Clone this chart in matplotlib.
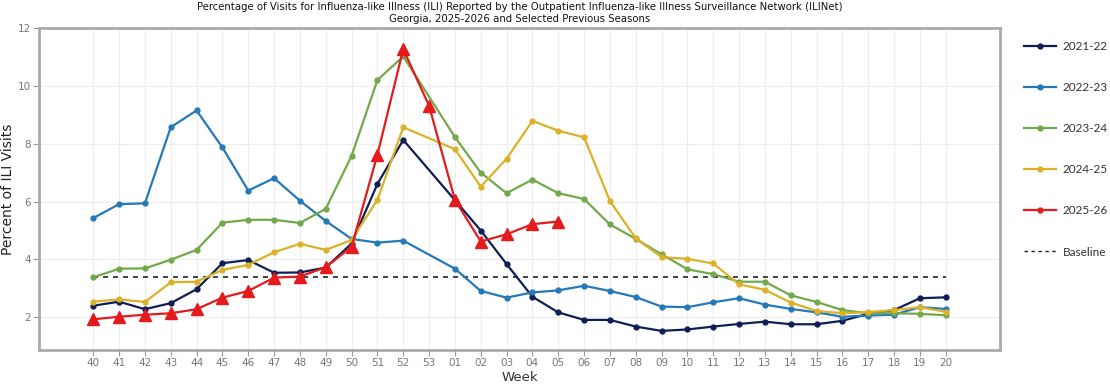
import matplotlib
matplotlib.use("Agg")
import matplotlib.pyplot as plt
from matplotlib.lines import Line2D

weeks = ['40', '41', '42', '43', '44', '45', '46', '47', '48', '49', '50', '51', '52', '53',
         '01', '02', '03', '04', '05', '06', '07', '08', '09', '10', '11', '12', '13', '14',
         '15', '16', '17', '18', '19', '20']

s2021_22 = [2.40, 2.54, 2.28, 2.49, 2.97, 3.87, 3.98, 3.54, 3.55, 3.72, 4.55, 6.61, 8.13, None,
            6.05, 5.00, 3.84, 2.71, 2.17, 1.91, 1.91, 1.68, 1.53, 1.58, 1.68, 1.77, 1.85, 1.76,
            1.76, 1.88, 2.12, 2.25, 2.66, 2.69]
s2022_23 = [5.43, 5.91, 5.94, 8.57, 9.15, 7.87, 6.38, 6.81, 6.03, 5.33, 4.71, 4.58, 4.65, None,
            3.68, 2.91, 2.68, 2.86, 2.93, 3.09, 2.91, 2.70, 2.37, 2.35, 2.52, 2.66, 2.44, 2.29,
            2.17, 2.02, 2.06, 2.09, 2.35, 2.29]
s2023_24 = [3.38, 3.68, 3.69, 3.99, 4.33, 5.27, 5.37, 5.37, 5.26, 5.75, 7.58, 10.20, 11.02, None,
            8.23, 7.00, 6.29, 6.76, 6.29, 6.09, 5.21, 4.71, 4.18, 3.66, 3.49, 3.23, 3.23, 2.76,
            2.53, 2.25, 2.14, 2.14, 2.12, 2.07]
s2024_25 = [2.54, 2.62, 2.53, 3.21, 3.23, 3.64, 3.81, 4.25, 4.54, 4.33, 4.67, 6.06, 8.57, None,
            7.81, 6.52, 7.48, 8.79, 8.45, 8.22, 6.02, 4.73, 4.08, 4.02, 3.86, 3.14, 2.95, 2.51,
            2.22, 2.14, 2.18, 2.25, 2.35, 2.19]
s2025_26 = [1.93, 2.02, 2.09, 2.14, 2.28, 2.68, 2.91, 3.37, 3.41, 3.73, 4.44, 7.62, 11.27, 9.31,
            6.06, 4.62, 4.87, 5.22, 5.31]
baseline = 3.4

series = [
    ('2021-22', s2021_22, '#0f1f55'),
    ('2022-23', s2022_23, '#2479b8'),
    ('2023-24', s2023_24, '#72a94a'),
    ('2024-25', s2024_25, '#dcb12a'),
    ('2025-26', s2025_26, '#e41a1c'),
]

fig = plt.figure(figsize=(11.10, 3.87), dpi=100)
ax = fig.add_axes([39/1110, 1-350/387, (1000-39)/1110, (350-28)/387])

handles = []
for name, vals, col in series:
    xs = [i for i, v in enumerate(vals) if v is not None]
    ys = [v for v in vals if v is not None]
    if name == '2025-26':
        ax.plot(xs, ys, color=col, lw=1.6, marker='^', ms=9, zorder=6)
    else:
        ax.plot(xs, ys, color=col, lw=1.6, marker='o', ms=3.5, zorder=4)
    handles.append(Line2D([], [], color=col, lw=1.6, marker='o', ms=3.5, label=name))

ax.plot([0, len(weeks)-1], [baseline, baseline], color='#222222', lw=1.2,
        dashes=(3, 3), zorder=3)
handles.append(Line2D([], [], color='#222222', lw=1.0, dashes=(2.5, 2.5), label='Baseline'))

ax.set_xlim(-2.1, len(weeks)-1+2.1)
ax.set_ylim(0.87, 12)
ax.set_xticks(range(len(weeks)))
ax.set_xticklabels(weeks)
ax.set_yticks([2, 4, 6, 8, 10, 12])
ax.tick_params(axis='both', colors='#999999', labelcolor='#777777', labelsize=7.5,
               length=4, width=0.8, pad=2)
ax.grid(True, color='#eeeeee', lw=0.8, zorder=0)
ax.set_axisbelow(True)
for sp in ax.spines.values():
    sp.set_color('#aaaaaa')
    sp.set_linewidth(2)

ax.set_xlabel('Week', fontsize=9.5, color='#333333', labelpad=2)
ax.set_ylabel('Percent of ILI Visits', fontsize=10, color='#222222')
ax.yaxis.set_label_coords(-24/961, 0.5)
ax.set_title('Percentage of Visits for Influenza-like Illness (ILI) Reported by the Outpatient '
             'Influenza-like Illness Surveillance Network (ILINet)\n'
             'Georgia, 2025-2026 and Selected Previous Seasons',
             fontsize=7.3, color='#111111', pad=4, linespacing=1.3)

fig.legend(handles=handles, loc='upper left', bbox_to_anchor=(1024/1110, 1-41/387),
           frameon=False, prop={'family': 'Lato', 'size': 8.5}, labelspacing=2.55,
           handlelength=2.7, handletextpad=0.6, borderpad=0, borderaxespad=0,
           labelcolor='#333333')

fig.savefig('out.png', dpi=100)
